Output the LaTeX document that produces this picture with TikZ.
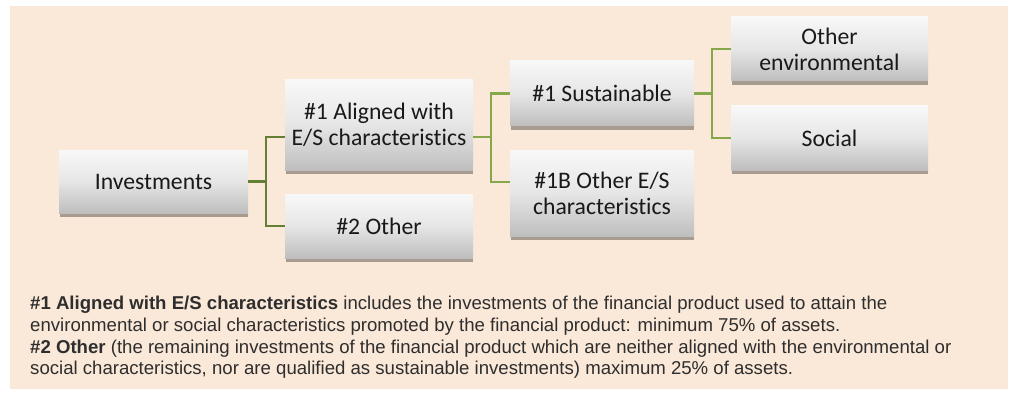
\documentclass[tikz,border=0pt]{standalone}
\usepackage{fontspec}
\setmainfont{Carlito}[Ligatures={NoCommon}]
\newfontfamily\arialf{Liberation Sans}[Ligatures={NoCommon}]
\usetikzlibrary{calc}
\definecolor{bgpeach}{HTML}{FAE8D8}
\definecolor{shadowc}{HTML}{A89B8F}
\definecolor{linedark}{HTML}{647F33}
\definecolor{linelight}{HTML}{86A84A}
\definecolor{boxtop}{HTML}{F8F8F8}
\definecolor{boxmid}{HTML}{E6E6E6}
\definecolor{boxbot}{HTML}{BEBEBE}
\definecolor{txtgray}{HTML}{2E2E2E}
\tikzset{
  px/.style={x=1pt,y=-1pt},
  gbox/.style={rectangle, inner sep=0pt, top color=boxtop, bottom color=boxbot, middle color=boxmid,
    align=center, font=\fontsize{23.7}{26}\selectfont, text=black!90},
  c1/.style={draw=linedark, line width=2.2pt},
  c2/.style={draw=linelight, line width=2.2pt},
  note/.style={anchor=base west, inner sep=0pt, font=\arialf\fontsize{18.6}{21.7}\selectfont, text=txtgray}
}
\newcommand{\mybox}[6]{%
  \fill[shadowc] (#2+1,#5-6) rectangle (#4,#5+4);
  \node[gbox, minimum width=#4-#2, minimum height=#5-#3] (#1) at ({(#2+#4)/2},{(#3+#5)/2}) {#6};
}
\begin{document}
\begin{tikzpicture}[px]
\useasboundingbox (0,0) rectangle (1011,393);
\fill[bgpeach] (10,6) rectangle (1008,389);

\mybox{inv}{59}{150}{248}{213}{Investments}
\mybox{al}{285}{80}{473}{170}{\#1 Aligned with\\E/S characteristics}
\mybox{oth}{285}{194}{473}{258}{\#2 Other}
\mybox{sus}{510}{61}{694}{126}{\#1 Sustainable}
\mybox{bib}{510}{150}{694}{236}{\#1B Other E/S\\characteristics}
\mybox{env}{731}{17}{928}{81}{Other\\environmental}
\mybox{soc}{731}{106}{928}{170}{Social}

\draw[c1] (inv.east) -- ++(18,0) coordinate (j1);
\draw[c1] ($(al.west)+(0,12)$) -| (j1) |- (oth.west);
\draw[c2] ($(al.east)+(0,12)$) -- ++(18,0) coordinate (j2);
\draw[c2] (sus.west) -| (j2) |- ($(bib.west)+(0,-11)$);
\draw[c2] (sus.east) -- ++(18,0) coordinate (j3);
\draw[c2] (env.west) -| (j3) |- (soc.west);

\node[note] (t1) at (30,309) {\textbf{\#1 Aligned with E/S characteristics} includes the investments of the financial product used to attain the};
\node[note] (t2) at (30,331) {environmental or social characteristics promoted by the financial product: minimum 75\% of assets.};
\node[note] (t3) at (30,353) {\textbf{\#2 Other} (the remaining investments of the financial product which are neither aligned with the environmental or};
\node[note] (t4) at (30,374) {social characteristics, nor are qualified as sustainable investments) maximum 25\% of assets.};
\end{tikzpicture}
\end{document}
